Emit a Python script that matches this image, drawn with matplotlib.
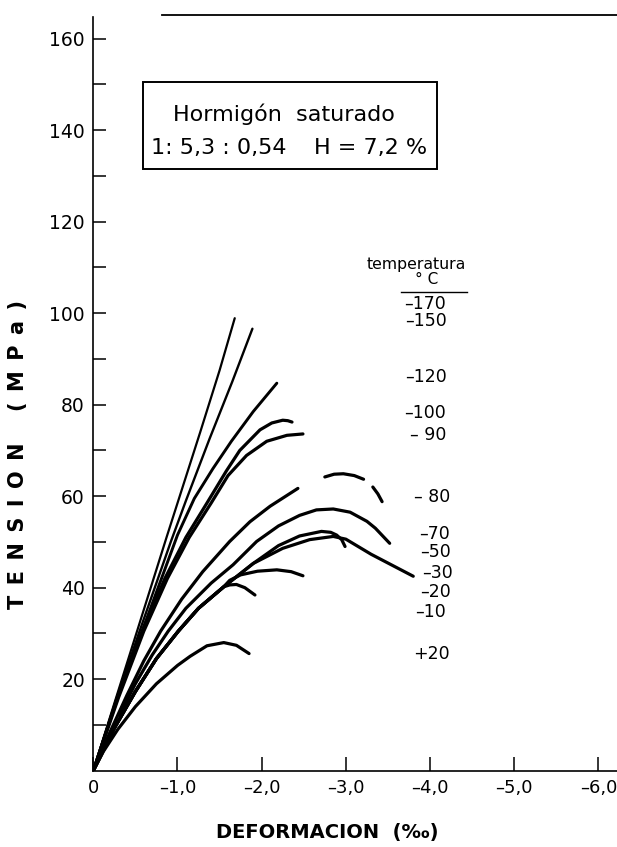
import matplotlib
matplotlib.use('Agg')
import matplotlib.pyplot as plt
from matplotlib.patches import Rectangle
from matplotlib.lines import Line2D

# Strain (per mille, compression negative) and stress (MPa)
eps_m170 = [0, 0.26, 0.52, 0.87, 1.27, 1.50, 1.68]
sig_m170 = [0, 15.3, 30.5, 51.0, 74.0, 87.5, 98.9]

eps_m150 = [0, 0.27, 0.55, 0.92, 1.10, 1.38, 1.65, 1.89]
sig_m150 = [0, 15.5, 30.5, 50.0, 59.0, 72.5, 85.0, 96.6]

eps_m120 = [0, 0.28, 0.58, 0.80, 1.00, 1.20, 1.42, 1.64, 1.90, 2.18]
sig_m120 = [0, 15.5, 30.5, 41.5, 51.5, 59.5, 66.0, 72.0, 78.5, 84.7]

eps_m100 = [0, 0.29, 0.58, 0.85, 1.10, 1.35, 1.58, 1.74, 1.98, 2.12, 2.25, 2.31, 2.36]
sig_m100 = [0, 16.0, 30.5, 42.0, 51.0, 58.5, 65.5, 70.0, 74.5, 76.0, 76.6, 76.5, 76.2]

eps_m90 = [0, 0.30, 0.60, 0.88, 1.14, 1.40, 1.60, 1.82, 2.06, 2.30, 2.49]
sig_m90 = [0, 16.0, 30.5, 42.0, 51.0, 58.5, 64.5, 68.9, 72.0, 73.3, 73.6]

eps_m80 = [0, 0.20, 0.40, 0.60, 0.80, 1.05, 1.30, 1.62, 1.86, 2.10, 2.43]
sig_m80 = [0, 8.5, 16.5, 24.0, 30.5, 37.5, 43.5, 50.1, 54.4, 57.8, 61.7]
# broken (dashed) continuation of the -80 curve
eps_m80_d1 = [2.75, 2.86, 2.97, 3.10, 3.21]
sig_m80_d1 = [64.2, 64.8, 64.9, 64.5, 63.7]
eps_m80_d2 = [3.32, 3.38, 3.43]
sig_m80_d2 = [62.0, 60.5, 58.8]

eps_m70 = [0.31, 0.50, 0.70, 0.89, 1.10, 1.40, 1.66, 1.94, 2.20, 2.45, 2.65, 2.85, 3.05, 3.25, 3.35, 3.52]
sig_m70 = [12.1, 19.0, 25.3, 30.5, 35.5, 41.0, 45.0, 50.1, 53.5, 55.8, 57.0, 57.2, 56.5, 54.5, 53.0, 49.7]

eps_m50 = [0, 0.25, 0.50, 0.75, 1.01, 1.25, 1.55, 1.90, 2.20, 2.45, 2.71, 2.82, 2.89, 2.95, 2.99]
sig_m50 = [0, 9.3, 17.3, 24.5, 30.5, 35.5, 40.2, 45.3, 49.2, 51.3, 52.3, 52.1, 51.5, 50.5, 49.0]

eps_m30 = [0, 0.25, 0.50, 0.75, 1.01, 1.25, 1.55, 1.90, 2.25, 2.57, 2.85, 3.00, 3.30, 3.55, 3.80]
sig_m30 = [0, 9.3, 17.3, 24.5, 30.5, 35.5, 40.2, 45.3, 48.6, 50.5, 51.2, 50.6, 47.3, 44.9, 42.5]

eps_m20 = [0, 0.25, 0.50, 0.75, 1.01, 1.25, 1.55, 1.62, 1.75, 1.95, 2.18, 2.35, 2.49]
sig_m20 = [0, 9.3, 17.3, 24.5, 30.5, 35.5, 40.2, 41.6, 42.8, 43.6, 43.9, 43.5, 42.6]

eps_m10 = [0, 0.25, 0.50, 0.75, 1.01, 1.25, 1.55, 1.62, 1.70, 1.80, 1.92]
sig_m10 = [0, 9.3, 17.3, 24.5, 30.5, 35.5, 40.2, 40.6, 40.7, 40.0, 38.4]

eps_p20 = [0, 0.12, 0.29, 0.50, 0.75, 1.00, 1.15, 1.35, 1.55, 1.70, 1.85]
sig_p20 = [0, 4.2, 9.0, 14.0, 19.0, 23.0, 25.0, 27.3, 28.0, 27.4, 25.6]

temp_labels = ['\u2013170', '\u2013150', '\u2013120', '\u2013100', '\u2013 90', '\u2013 80',
               '\u201370', '\u201350', '\u201330', '\u201320', '\u201310', '+20']

x_ticks = [0, -1, -2, -3, -4, -5, -6]
x_tick_labels = ['0', '\u20131,0', '\u20132,0', '\u20133,0', '\u20134,0', '\u20135,0', '\u20136,0']
y_ticks = [20, 40, 60, 80, 100, 120, 140, 160]

plt.rcParams['font.family'] = ['DejaVu Sans']

fig = plt.figure(figsize=(6.17, 8.47), dpi=100)
ax = fig.add_axes([0.1512, 0.0901, 0.8488, 0.8902])


def draw(eps, sig, lw=2.3):
    ax.plot([-e for e in eps], sig, color='black', linewidth=lw,
            solid_capstyle='round', solid_joinstyle='round')


draw(eps_m170, sig_m170, 1.6)
draw(eps_m150, sig_m150, 1.7)
draw(eps_m120, sig_m120, 2.1)
draw(eps_m100, sig_m100)
draw(eps_m90, sig_m90)
draw(eps_m80, sig_m80)
draw(eps_m80_d1, sig_m80_d1)
draw(eps_m80_d2, sig_m80_d2)
draw(eps_m70, sig_m70)
draw(eps_m50, sig_m50)
draw(eps_m30, sig_m30)
draw(eps_m20, sig_m20)
draw(eps_m10, sig_m10)
draw(eps_p20, sig_p20)

ax.set_xlim(0, -6.22)
ax.set_ylim(0, 164.8)

# axes look like the old drawing: only left and bottom lines, ticks inside
for side in ['top', 'right']:
    ax.spines[side].set_visible(False)
for side in ['left', 'bottom']:
    ax.spines[side].set_linewidth(1.2)

ax.set_xticks(x_ticks)
ax.set_xticklabels(x_tick_labels)
ax.set_yticks(y_ticks)
ax.set_yticks([10, 30, 50, 70, 90, 110, 130, 150], minor=True)
ax.tick_params(axis='x', which='both', direction='in', length=10, width=1.1,
               labelsize=13, pad=6)
ax.tick_params(axis='y', which='both', direction='in', length=9.5, width=1.1,
               labelsize=13.5, pad=6)

# temperature labels on the right
label_x = [-3.94, -3.95, -3.95, -3.94, -3.98, -4.03, -4.05, -4.07, -4.09, -4.07, -4.01, -4.02]
label_y = [102.0, 98.3, 86.1, 78.2, 73.4, 59.8, 51.7, 47.8, 43.2, 39.0, 34.7, 25.5]
for txt, lx, ly in zip(temp_labels, label_x, label_y):
    ax.text(lx, ly, txt, ha='center', va='center', fontsize=12.5)

ax.text(-3.84, 110.7, 'temperatura', ha='center', va='center', fontsize=11.3)
ax.text(-3.96, 107.4, '\u00b0 C', ha='center', va='center', fontsize=11)
ax.plot([-3.66, -4.44], [104.7, 104.7], color='black', linewidth=1.0)

# info box
ax.add_patch(Rectangle((-0.585, 131.5), -3.50, 19.0, fill=False,
                       edgecolor='black', linewidth=1.4))
ax.text(-2.26, 143.5, 'Hormig\u00f3n  saturado', ha='center', va='center', fontsize=16)
ax.text(-1.49, 136.2, '1: 5,3 : 0,54', ha='center', va='center', fontsize=16)
ax.text(-3.29, 136.2, 'H = 7,2 %', ha='center', va='center', fontsize=16)

# line along the top of the sheet
fig.add_artist(Line2D([0.262, 1.0], [0.9823, 0.9823], color='black', linewidth=1.3))

sp = '\u2002'
ylab = sp.join('TENSION') + sp * 3 + sp.join('(MPa)')
fig.text(0.029, 0.463, ylab, rotation=90, ha='center',
         va='center', fontsize=15, fontweight='bold')
fig.text(0.53, 0.0177, 'DEFORMACION  (\u2030)', ha='center', va='center',
         fontsize=14, fontweight='bold')

fig.savefig('out.png', dpi=100, facecolor='white')
